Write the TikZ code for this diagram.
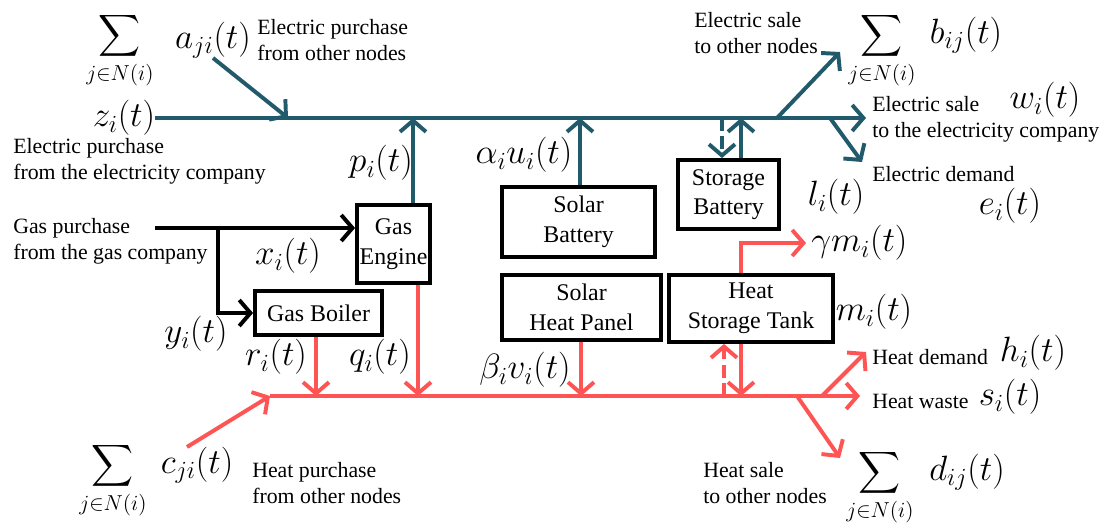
\RequirePackage{fix-cm}
\documentclass[tikz,border=0pt]{standalone}
\usepackage{amsmath}
\usepackage{fontspec}
\setmainfont{Liberation Serif}
\usepackage{tikz}
\usetikzlibrary{positioning,arrows.meta}
\definecolor{elec}{RGB}{33,91,107}
\definecolor{heat}{RGB}{255,84,84}
\newcommand{\nsum}{\displaystyle\sum_{j\in N(i)}}

\begin{document}
\begin{tikzpicture}[x=0.025cm, y=-0.025cm,
  unit/.style={draw, line width=2.6pt, align=center, font=\fontsize{17}{21}\selectfont, inner sep=1pt},
  lbl/.style={align=left, anchor=west, inner sep=0pt, font=\fontsize{15.5}{18.5}\selectfont},
  var/.style={inner sep=0pt, font=\fontsize{25}{29}\selectfont},
  sumvar/.style={inner sep=0pt, font=\fontsize{22}{26}\selectfont},
  flow/.style={line width=2.8pt, -{Straight Barb[length=2.8mm,width=6.5mm]}},
  ebus/.style={flow, draw=elec},
  hbus/.style={flow, draw=heat},
  gbus/.style={flow, draw=black},
  brokenline/.style={dash pattern=on 9pt off 4pt}]
\useasboundingbox (0,0) rectangle (1111,532);

% units
\node[unit, minimum width=1.83cm, minimum height=1.95cm] (engine) at (393.5,244) {Gas\\Engine};
\node[unit, minimum width=3.18cm, minimum height=1.1cm] (boiler) at (318.5,313) {Gas Boiler};
\node[unit, minimum width=3.83cm, minimum height=1.75cm] (sbat) at (578.5,222) {Solar\\Battery};
\node[unit, minimum width=2.53cm, minimum height=1.73cm] (stor) at (728.5,194.5) {Storage\\Battery};
\node[unit, minimum width=3.98cm, minimum height=1.63cm] (panel) at (581.5,307.5) {Solar\\Heat Panel};
\node[unit, minimum width=4.1cm, minimum height=1.68cm] (tank) at (751,308.5) {Heat\\Storage Tank};

% variables
\node[sumvar] (sa) at (120,51) {$\nsum$};
\node[var] (a) at (213,40) {$a_{ji}(t)$};
\node[var] (z) at (124,118) {$z_i(t)$};
\node[var] (p) at (381,163) {$p_i(t)$};
\node[var] (u) at (524,155) {$\alpha_i u_i(t)$};
\node[var] (l) at (836,197) {$l_i(t)$};
\node[sumvar] (sb) at (882,51) {$\nsum$};
\node[var] (b) at (966,35) {$b_{ij}(t)$};
\node[var] (w) at (1045,100) {$w_i(t)$};
\node[var] (e) at (1010,206) {$e_i(t)$};
\node[var] (x) at (288,256) {$x_i(t)$};
\node[var] (y) at (196,334) {$y_i(t)$};
\node[var] (r) at (276,357) {$r_i(t)$};
\node[var] (q) at (380,357) {$q_i(t)$};
\node[var] (v) at (525,370) {$\beta_i v_i(t)$};
\node[var, anchor=west] (gm) at (811,243) {$\gamma m_i(t)$};
\node[var] (m) at (874,312) {$m_i(t)$};
\node[var] (h) at (1033,353) {$h_i(t)$};
\node[var] (s) at (1010,397) {$s_i(t)$};
\node[sumvar] (sc) at (113,481) {$\nsum$};
\node[var] (c) at (197,465) {$c_{ji}(t)$};
\node[sumvar] (sd) at (880,488) {$\nsum$};
\node[var] (d) at (967,472) {$d_{ij}(t)$};

% descriptions
\node[lbl] (epo) at (257,40) {Electric purchase\\from other nodes};
\node[lbl] (epc) at (13,161) {Electric purchase\\from the electricity company};
\node[lbl] (gpc) at (13,241) {Gas purchase\\from the gas company};
\node[lbl] (hpo) at (252,483) {Heat purchase\\from other nodes};
\node[lbl] (eso) at (694,33) {Electric sale\\to other nodes};
\node[lbl] (esc) at (872,119) {Electric sale\\to the electricity company};
\node[lbl] (edm) at (872,174) {Electric demand};
\node[lbl] (hdm) at (872,357) {Heat demand};
\node[lbl] (hws) at (872,401) {Heat waste};
\node[lbl] (hso) at (703,483) {Heat sale\\to other nodes};

% electric bus
\coordinate (eout) at (866,118);
\coordinate (a0) at (213,58);
\coordinate (a1) at (288,118);
\coordinate (p1) at (413,118);
\coordinate (u1) at (580,118);
\coordinate (l1) at (722,118);
\coordinate (l2) at (741,118);
\coordinate (b0) at (777,118);
\coordinate (b1) at (840,52);
\coordinate (e0) at (830,118);
\coordinate (e1) at (862,162);
\draw[ebus] (z.east) -- (eout);
\draw[ebus] (a0) -- (a1);
\draw[ebus] (engine.north -| p1) -- (p1);
\draw[ebus] (sbat.north -| u1) -- (u1);
\draw[ebus, brokenline] (l1) -- (stor.north -| l1);
\draw[ebus] (stor.north -| l2) -- (l2);
\draw[ebus] (b0) -- (b1);
\draw[ebus] (e0) -- (e1);

% gas
\coordinate (g0) at (155,228);
\coordinate (g1) at (218,228);
\draw[gbus] (g0) -- (engine.west |- g0);
\draw[gbus] (g1) |- (boiler.west);

% heat bus
\coordinate (hin) at (270,396);
\coordinate (hout) at (860,396);
\coordinate (c0) at (187,447);
\coordinate (r1) at (316,396);
\coordinate (q1) at (418,396);
\coordinate (v1) at (581,396);
\coordinate (m1) at (724,396);
\coordinate (m2) at (741,396);
\coordinate (g2) at (806,243);
\coordinate (h0) at (822,396);
\coordinate (h1) at (866,352);
\coordinate (d0) at (797,396);
\coordinate (d1) at (840,458);
\draw[hbus] (hin) -- (hout);
\draw[hbus] (c0) -- (hin);
\draw[hbus] (boiler.south -| r1) -- (r1);
\draw[hbus] (engine.south -| q1) -- (q1);
\draw[hbus] (panel.south -| v1) -- (v1);
\draw[hbus, brokenline] (m1) -- (tank.south -| m1);
\draw[hbus] (tank.south -| m2) -- (m2);
\draw[hbus] (tank.north -| m2) |- (g2);
\draw[hbus] (h0) -- (h1);
\draw[hbus] (d0) -- (d1);
\end{tikzpicture}
\end{document}
